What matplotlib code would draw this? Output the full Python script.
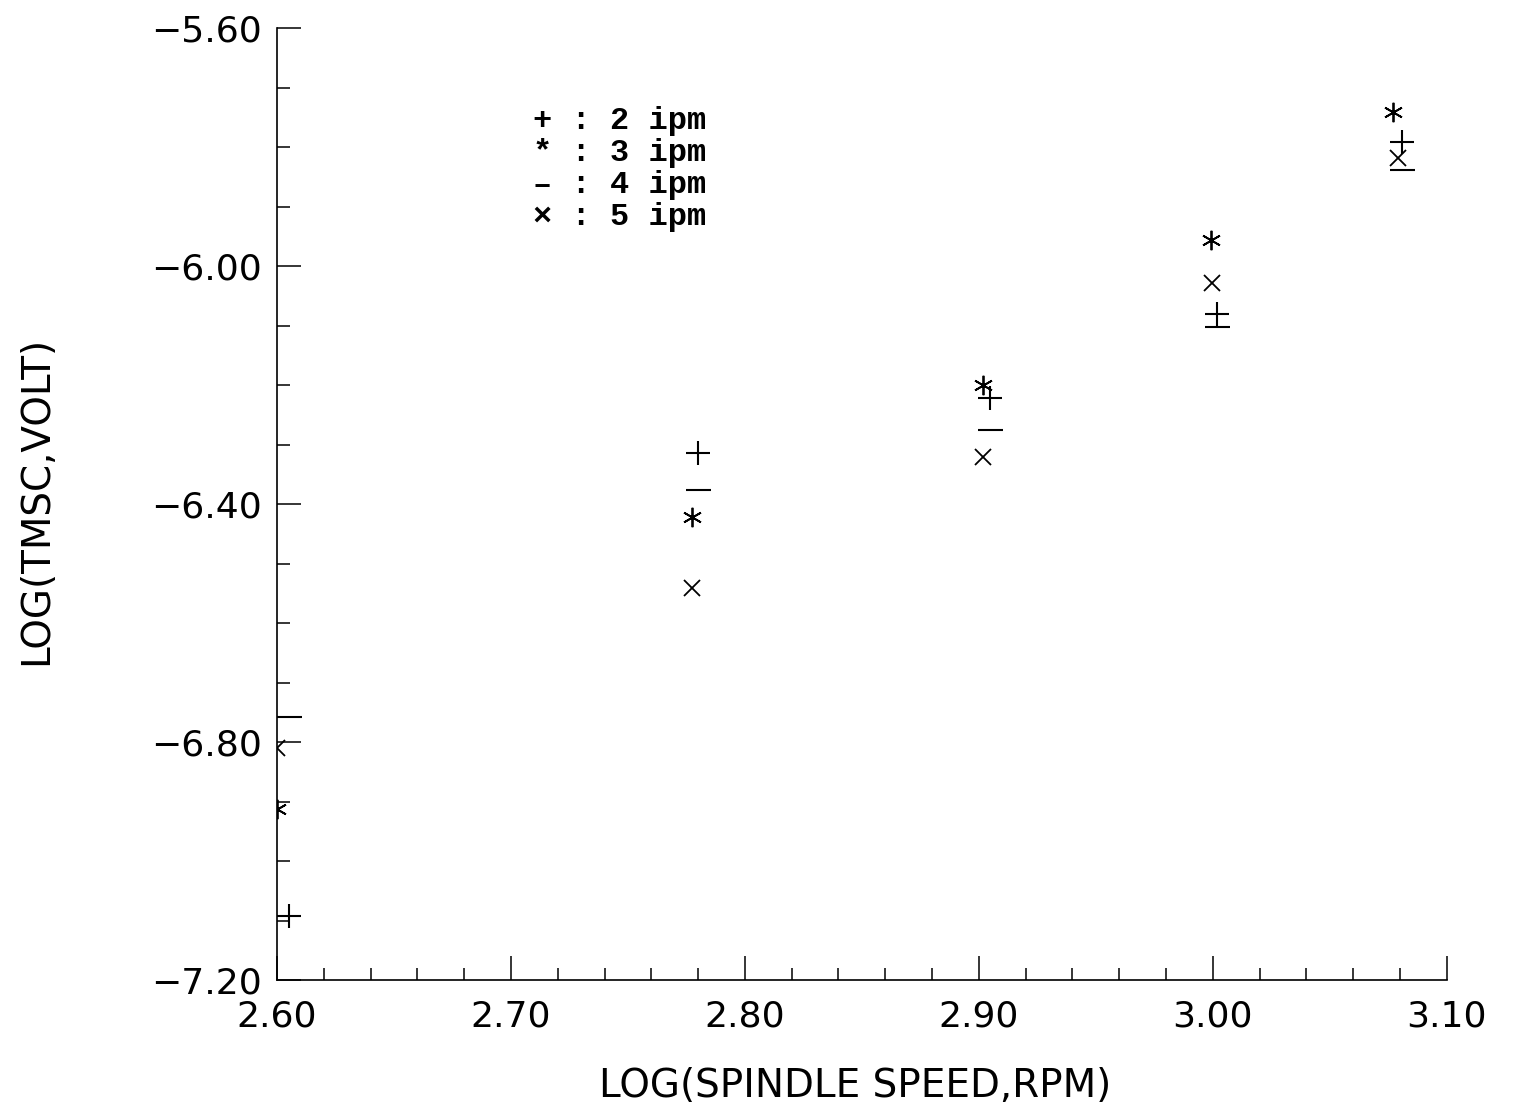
import matplotlib
matplotlib.use("Agg")
import matplotlib.pyplot as plt
from matplotlib.ticker import MultipleLocator, FuncFormatter

# log10 of spindle speed (rpm) and log10 of TMSC (volt)
x_2ipm = [2.605, 2.780, 2.9047, 3.0017, 3.0808]
y_2ipm = [-7.092, -6.314, -6.222, -6.081, -5.792]
x_3ipm = [2.600, 2.7774, 2.9017, 2.9990, 3.0769]
y_3ipm = [-6.913, -6.422, -6.200, -5.956, -5.741]
x_4ipm = [2.605, 2.780, 2.9047, 3.0017, 3.0808]
y_4ipm = [-6.758, -6.376, -6.276, -6.103, -5.839]
x_5ipm = [2.600, 2.7774, 2.9017, 2.9995, 3.0790]
y_5ipm = [-6.810, -6.541, -6.321, -6.029, -5.818]

legend_lines = ["+ : 2 ipm", "* : 3 ipm", "\u2013 : 4 ipm", "\u00d7 : 5 ipm"]


def fmt(v, pos):
    return f"{v:.2f}".replace("-", "\u2212")


fig = plt.figure(figsize=(15.15, 11.12), dpi=100)
ax = fig.add_axes([0.1828, 0.1187, 0.7722, 0.8561])

ax.plot(x_2ipm, y_2ipm, linestyle="none", marker="+", markersize=17, markeredgewidth=1.5, color="black")
ax.plot(x_3ipm, y_3ipm, linestyle="none", marker=(6, 2, 0), markersize=14, markeredgewidth=1.3, color="black")
ax.plot(x_4ipm, y_4ipm, linestyle="none", marker="_", markersize=18, markeredgewidth=1.5, color="black")
ax.plot(x_5ipm, y_5ipm, linestyle="none", marker="x", markersize=12, markeredgewidth=1.3, color="black")

ax.set_xlim(2.60, 3.10)
ax.set_ylim(-7.20, -5.60)
ax.xaxis.set_major_locator(MultipleLocator(0.1))
ax.xaxis.set_minor_locator(MultipleLocator(0.02))
ax.yaxis.set_major_locator(MultipleLocator(0.4))
ax.yaxis.set_minor_locator(MultipleLocator(0.1))
ax.xaxis.set_major_formatter(FuncFormatter(fmt))
ax.yaxis.set_major_formatter(FuncFormatter(fmt))

ax.spines["top"].set_visible(False)
ax.spines["right"].set_visible(False)
ax.spines["left"].set_linewidth(1.2)
ax.spines["bottom"].set_linewidth(1.2)
ax.tick_params(which="both", direction="in", width=1.1, labelsize=26, color="black")
ax.tick_params(which="major", length=17)
ax.tick_params(which="minor", length=9)
ax.tick_params(axis="x", which="major", pad=14)
ax.tick_params(axis="y", which="major", pad=11)

ax.set_xlabel("LOG(SPINDLE SPEED,RPM)", fontsize=28)
ax.set_ylabel("LOG(TMSC,VOLT)", fontsize=28)
ax.xaxis.set_label_coords(0.494, -0.091)
ax.yaxis.set_label_coords(-0.19, 0.504)

for i, line in enumerate(legend_lines):
    ax.text(0.219, 0.902 - i * 0.0336, line, transform=ax.transAxes,
            fontsize=23, family="Liberation Mono", fontweight="bold",
            ha="left", va="center")

fig.savefig("out.png", dpi=100)
